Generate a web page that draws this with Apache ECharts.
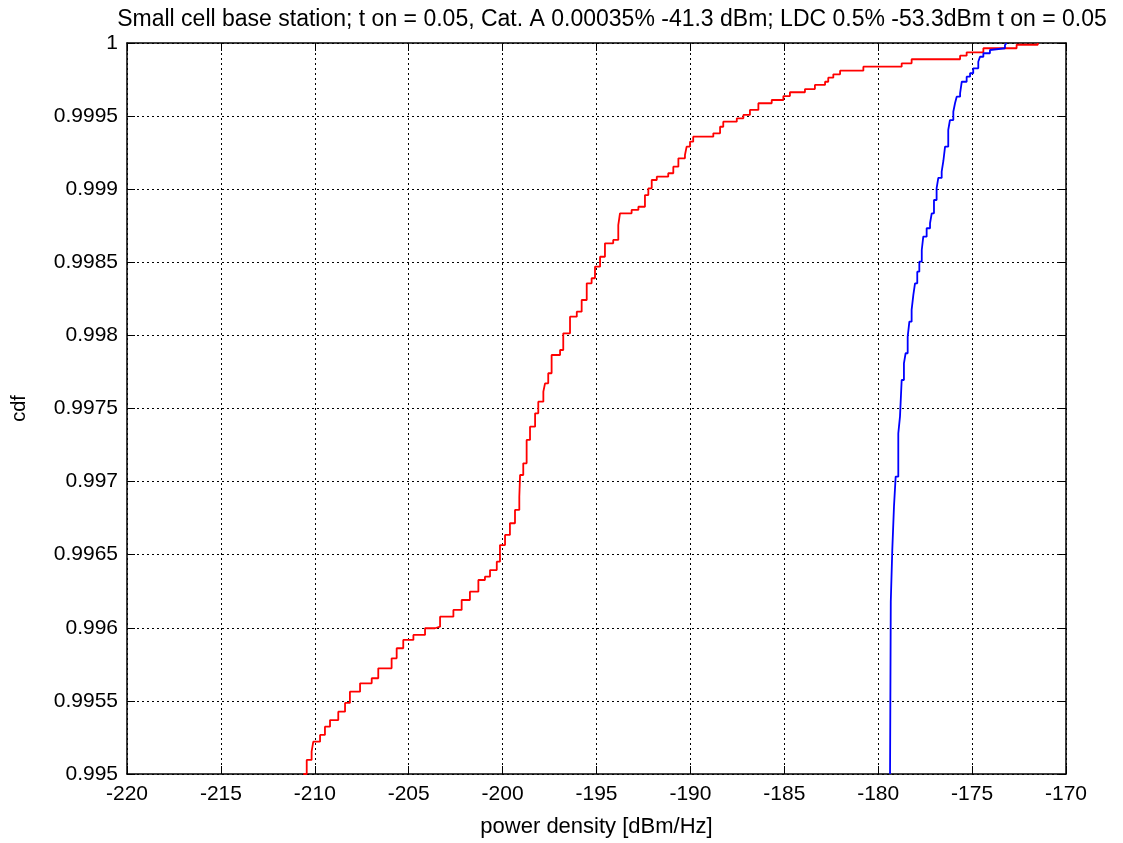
<!DOCTYPE html>
<html>
<head>
<meta charset="utf-8">
<script src="https://cdn.jsdelivr.net/npm/echarts@6/dist/echarts.min.js"></script>
<style>html,body{margin:0;padding:0;background:#fff}#c{width:1123px;height:843px}</style>
</head>
<body>
<div id="c"></div>
<script>
// Red curve (Cat. A) - power density [dBm/Hz] vs cdf
const redX = [-210.61,-210.43,-210.17,-210.08,-209.72,-209.46,-209.19,-208.75,-208.39,-208.13,-207.59,-206.97,-206.62,-205.91,-205.64,-205.29,-204.75,-204.13,-203.6,-203.33,-202.62,-202.18,-201.74,-201.29,-200.94,-200.67,-200.31,-200.14,-199.87,-199.61,-199.34,-199.11,-199.07,-198.9,-198.72,-198.54,-198.27,-198.1,-197.83,-197.74,-197.57,-197.39,-196.94,-196.77,-196.41,-196.05,-195.79,-195.52,-195.26,-195.08,-194.81,-194.55,-194.11,-193.84,-193.75,-193.13,-192.77,-192.42,-192.24,-192.06,-191.79,-191.18,-190.91,-190.64,-190.29,-190.2,-190.02,-189.85,-188.78,-188.42,-188.25,-187.53,-187.18,-186.83,-186.38,-185.67,-185.05,-184.7,-183.9,-183.37,-182.83,-182.66,-182.39,-182.03,-180.79,-178.75,-178.22,-175.64,-175.29,-174.4,-172.63,-171.5];
const redY = [0.995,0.995096,0.995153,0.995221,0.995267,0.995324,0.995369,0.995426,0.995486,0.995563,0.99562,0.995655,0.995723,0.995791,0.99586,0.995917,0.995951,0.995997,0.996008,0.996076,0.996122,0.99619,0.996247,0.996327,0.99635,0.996395,0.996452,0.996566,0.996635,0.996715,0.996806,0.996897,0.997045,0.997125,0.997285,0.997376,0.997467,0.997547,0.997615,0.997672,0.997741,0.997866,0.9979,0.998014,0.998128,0.998162,0.998242,0.998356,0.998391,0.99847,0.998538,0.99863,0.998653,0.998755,0.998835,0.998858,0.99888,0.99896,0.999006,0.999063,0.999086,0.999109,0.999154,0.999211,0.999234,0.999291,0.999325,0.999359,0.999382,0.999427,0.999462,0.999485,0.999508,0.999542,0.999588,0.99961,0.999637,0.999663,0.999685,0.999713,0.999735,0.999763,0.999786,0.999811,0.999838,0.999861,0.999889,0.999913,0.999936,0.999964,0.999988,1.0];
// Blue curve (LDC)
const blueX = [-179.37,-179.33,-179.25,-179.16,-179.07,-178.93,-178.84,-178.75,-178.63,-178.54,-178.43,-178.34,-178.22,-178.13,-178.04,-177.92,-177.81,-177.68,-177.6,-177.42,-177.24,-177.15,-177.03,-176.89,-176.8,-176.62,-176.53,-176.44,-176.27,-176.18,-176.0,-175.91,-175.82,-175.64,-175.55,-175.29,-175.11,-174.94,-174.67,-174.58,-174.4,-174.05,-173.96,-173.25,-173.16];
const blueY = [0.995,0.996179,0.996532,0.996828,0.997034,0.99733,0.997444,0.997695,0.997809,0.997878,0.997991,0.998094,0.998174,0.998276,0.998356,0.998436,0.998504,0.998584,0.998675,0.998733,0.998767,0.998835,0.998926,0.999006,0.999077,0.99912,0.999193,0.999291,0.999405,0.999473,0.99953,0.999588,0.999633,0.999656,0.999735,0.99977,0.999793,0.999827,0.999872,0.999906,0.99993,0.999952,0.999964,0.999986,1.0];
const xTicks = [-220,-215,-210,-205,-200,-195,-190,-185,-180,-175,-170];
const yTicks = ['0.995','0.9955','0.996','0.9965','0.997','0.9975','0.998','0.9985','0.999','0.9995','1'];
const titleText = 'Small cell base station; t on = 0.05, Cat. A 0.00035% -41.3 dBm; LDC 0.5% -53.3dBm t on = 0.05';

const zip = (xs, ys) => xs.map((x, i) => [x, ys[i]]);
const fontFam = '"Liberation Sans", Arial, sans-serif';
const gridLine = {show: true, lineStyle: {color: '#000', type: [2, 3], width: 1}};
const axisLine = {show: true, onZero: false, lineStyle: {color: '#000', width: 1.5}};

const chart = echarts.init(document.getElementById('c'), null, {renderer: 'canvas'});
chart.setOption({
  animation: false,
  backgroundColor: '#fff',
  title: {
    text: titleText, left: 607, top: 3, textAlign: 'center',
    textStyle: {fontFamily: fontFam, fontSize: 23, fontWeight: 'normal', color: '#000'}
  },
  grid: {left: 127, right: 57, top: 43, bottom: 69, containLabel: false},
  xAxis: [{
    type: 'value', min: -220, max: -170, interval: 5,
    name: 'power density [dBm/Hz]', nameLocation: 'middle', nameGap: 42,
    nameTextStyle: {fontFamily: fontFam, fontSize: 22, color: '#000'},
    axisLine: axisLine,
    axisTick: {show: true, inside: true, length: 8, lineStyle: {color: '#000'}},
    axisLabel: {fontFamily: fontFam, fontSize: 21, color: '#000', margin: 10,
      formatter: v => String(xTicks.find(t => Math.abs(t - v) < 1e-6) ?? v)},
    splitLine: gridLine
  }, {
    type: 'value', position: 'top', min: -220, max: -170, interval: 5,
    axisLine: axisLine,
    axisTick: {show: true, inside: true, length: 8, lineStyle: {color: '#000'}},
    axisLabel: {show: false}, splitLine: {show: false}
  }],
  yAxis: [{
    type: 'value', min: 0.995, max: 1, interval: 0.0005,
    name: 'cdf', nameLocation: 'middle', nameGap: 98, nameRotate: 90,
    nameTextStyle: {fontFamily: fontFam, fontSize: 20, color: '#000'},
    axisLine: axisLine,
    axisTick: {show: true, inside: true, length: 8, lineStyle: {color: '#000'}},
    axisLabel: {fontFamily: fontFam, fontSize: 21, color: '#000', margin: 9,
      formatter: v => { const k = Math.round((v - 0.995) / 0.0005); return yTicks[k] ?? ''; }},
    splitLine: gridLine
  }, {
    type: 'value', position: 'right', min: 0.995, max: 1, interval: 0.0005,
    axisLine: axisLine,
    axisTick: {show: true, inside: true, length: 8, lineStyle: {color: '#000'}},
    axisLabel: {show: false}, splitLine: {show: false}
  }],
  series: [{
    type: 'line', name: 'Cat. A', step: 'end', showSymbol: false, symbol: 'none',
    data: zip(redX, redY), lineStyle: {color: '#ff0000', width: 1.8}, z: 3
  }, {
    type: 'line', name: 'LDC', step: 'end', showSymbol: false, symbol: 'none',
    data: zip(blueX, blueY), lineStyle: {color: '#0000ff', width: 1.8}, z: 4
  }]
});
</script>
</body>
</html>
